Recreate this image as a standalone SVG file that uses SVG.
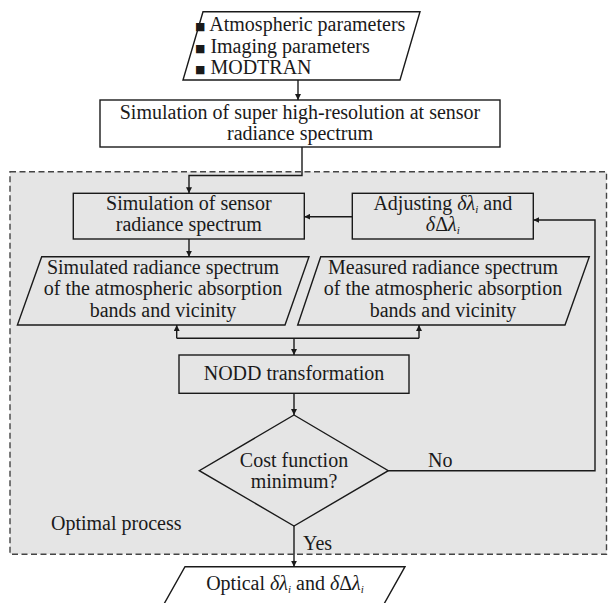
<svg xmlns="http://www.w3.org/2000/svg" width="608" height="603" viewBox="0 0 608 603">
  <defs>
    <marker id="arr" viewBox="0 0 10 10" refX="10" refY="5" markerWidth="6" markerHeight="6" markerUnits="userSpaceOnUse" orient="auto">
      <path d="M0,0 L10,5 L0,10 Z" fill="#1a1a1a"/>
    </marker>
    <style>
      .t { font-family: 'Liberation Serif', 'DejaVu Serif', 'Times New Roman', serif; font-size: 20px; fill: #1a1a1a; }
      .c { text-anchor: middle; }
      .it { font-style: italic; }
      .sub { font-style: italic; font-size: 11px; }
      .bul { font-family: 'DejaVu Sans', sans-serif; font-size: 11px; }
      .shape { stroke: #1a1a1a; stroke-width: 1.4; }
      .white { fill: #ffffff; }
      .clear { fill: none; }
      .conn { fill: none; stroke: #1a1a1a; stroke-width: 1.4; }
    </style>
  </defs>
  <rect x="0" y="0" width="608" height="603" fill="#ffffff"/>

  <g id="optimal-process">
    <rect x="10" y="171.7" width="596.5" height="382.5" fill="#e5e5e5" stroke="#444444" stroke-width="1.4" stroke-dasharray="6,3.5"/>
    <text class="t" x="51" y="530" font-family="Liberation Serif, serif">Optimal process</text>
  </g>

  <g id="inputs">
    <polygon class="shape white" points="203,11.7 420,11.7 400,80 183,80"/>
    <text class="t" x="195" y="31"><tspan class="bul" dy="-1">■</tspan><tspan dy="1"> Atmospheric parameters</tspan></text>
    <text class="t" x="195" y="52.5"><tspan class="bul" dy="-1">■</tspan><tspan dy="1"> Imaging parameters</tspan></text>
    <text class="t" x="195" y="73.5"><tspan class="bul" dy="-1">■</tspan><tspan dy="1"> MODTRAN</tspan></text>
  </g>

  <g id="super-res-sim">
    <rect class="shape white" x="100" y="100" width="400" height="47"/>
    <text class="t c" x="300" y="118.5">Simulation of super high-resolution at sensor</text>
    <text class="t c" x="300" y="140">radiance spectrum</text>
  </g>

  <g id="sensor-sim">
    <rect class="shape clear" x="73.3" y="193.3" width="231" height="45.7"/>
    <text class="t c" x="188.8" y="210">Simulation of sensor</text>
    <text class="t c" x="188.8" y="231">radiance spectrum</text>
  </g>

  <g id="adjusting">
    <rect class="shape clear" x="352.3" y="193.3" width="181" height="45.7"/>
    <text class="t c" x="442.8" y="210">Adjusting <tspan class="it">δλ</tspan><tspan class="sub" dy="3">i</tspan><tspan dy="-3"> and</tspan></text>
    <text class="t c" x="442.8" y="231"><tspan class="it">δ</tspan>Δ<tspan class="it">λ</tspan><tspan class="sub" dy="3">i</tspan></text>
  </g>

  <g id="simulated-spectrum">
    <polygon class="shape clear" points="41.7,256.7 309,256.7 285,325 17.4,325"/>
    <text class="t c" x="163" y="273.5">Simulated radiance spectrum</text>
    <text class="t c" x="163" y="295">of the atmospheric absorption</text>
    <text class="t c" x="163" y="316.7">bands and vicinity</text>
  </g>

  <g id="measured-spectrum">
    <polygon class="shape clear" points="320.7,256.7 589.3,256.7 565,325 297.7,325"/>
    <text class="t c" x="443" y="273.5">Measured radiance spectrum</text>
    <text class="t c" x="443" y="295">of the atmospheric absorption</text>
    <text class="t c" x="443" y="316.7">bands and vicinity</text>
  </g>

  <g id="nodd">
    <rect class="shape clear" x="179" y="355" width="230" height="38.3"/>
    <text class="t c" x="294" y="380">NODD transformation</text>
  </g>

  <g id="cost-decision">
    <polygon class="shape clear" points="294,415 388.3,470.7 294,526 199.3,470.7"/>
    <text class="t c" x="294" y="466.5">Cost function</text>
    <text class="t c" x="294" y="487.5">minimum?</text>
  </g>

  <g id="optical-output">
    <polygon class="shape white" points="185,566.7 405,566.7 375,620 155,620"/>
    <text class="t c" x="285" y="590">Optical <tspan class="it">δλ</tspan><tspan class="sub" dy="3">i</tspan><tspan dy="-3"> and </tspan><tspan class="it">δ</tspan>Δ<tspan class="it">λ</tspan><tspan class="sub" dy="3">i</tspan></text>
  </g>

  <g id="connectors">
    <path class="conn" d="M298,80 L298,100" marker-end="url(#arr)"/>
    <path class="conn" d="M302,147 L302,175.5 L189,175.5 L189,193.3" marker-end="url(#arr)"/>
    <path class="conn" d="M352.3,216.7 L304.3,216.7" marker-end="url(#arr)"/>
    <path class="conn" d="M189,239 L189,256.7" marker-end="url(#arr)"/>
    <path class="conn" d="M176.7,338.3 L419,338.3"/>
    <path class="conn" d="M176.7,338.3 L176.7,325" marker-end="url(#arr)"/>
    <path class="conn" d="M419,338.3 L419,325" marker-end="url(#arr)"/>
    <path class="conn" d="M294,338.3 L294,355" marker-end="url(#arr)"/>
    <path class="conn" d="M294,393.3 L294,415" marker-end="url(#arr)"/>
    <path class="conn" d="M388.3,470.7 L595,470.7 L595,220 L533.3,220" marker-end="url(#arr)"/>
    <path class="conn" d="M294,526 L294,566.7" marker-end="url(#arr)"/>
    <text class="t" x="428" y="466.7">No</text>
    <text class="t" x="303" y="550">Yes</text>
  </g>
</svg>
